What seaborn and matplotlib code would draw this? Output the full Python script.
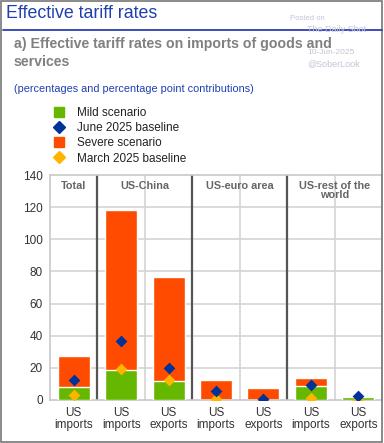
import matplotlib
matplotlib.use("Agg")
import matplotlib.pyplot as plt
import seaborn as sns
import pandas as pd
from matplotlib.lines import Line2D
from matplotlib.patches import Rectangle

sns.set_theme(style="white")
plt.rcParams['font.family'] = ['Liberation Sans', 'DejaVu Sans']

keys = ["tot_imp", "cn_imp", "cn_exp", "ea_imp", "ea_exp", "rw_imp", "rw_exp"]
tick_labels = ["US\nimports", "US\nimports", "US\nexports", "US\nimports",
               "US\nexports", "US\nimports", "US\nexports"]
group_labels = ["Total", "US-China", "US-euro area", "US-rest of the\nworld"]
group_centers = [0, 1.5, 3.5, 5.5]
severe = [27.4, 118.3, 76.8, 12.2, 7.3, 13.8, 1.9]
mild = [8.4, 18.8, 11.8, 0.0, 0.0, 9.0, 1.9]
june = [12.4, 36.5, 19.9, 5.8, 0.6, 9.1, 2.2]
march = [3.2, 19.2, 12.7, 0.4, 0.0, 1.4, 0.3]

GREEN = "#66b700"
ORANGE = "#ff4b00"
NAVY = "#003299"
YELLOW = "#ffb400"

df = pd.DataFrame({"key": keys, "severe": severe, "mild": mild,
                   "june": june, "march": march})

fig = plt.figure(figsize=(3.84, 4.43), dpi=100)
ax = fig.add_axes([50/384, 43/443, 332/384, 225/443])

# gridlines
for v in range(20, 140, 20):
    ax.axhline(v, color="#d4d4d4", lw=1.2, zorder=0)
for xv in [1.5, 3.5, 5.5]:
    ax.axvline(xv, color="#d4d4d4", lw=1.2, zorder=0)
for xv in [0.5, 2.5, 4.5]:
    ax.plot([xv, xv], [0, 140], color="#555555", lw=1.6, zorder=1, solid_capstyle="butt")

sns.barplot(data=df, x="key", y="severe", order=keys, color=ORANGE, width=0.675,
            saturation=1, ax=ax, zorder=2)
sns.barplot(data=df, x="key", y="mild", order=keys, color=GREEN, width=0.675,
            saturation=1, ax=ax, zorder=3)
for col, c in [("march", YELLOW), ("june", NAVY)]:
    sns.stripplot(data=df, x="key", y=col, order=keys, color=c, marker="D",
                  size=6, jitter=False, linewidth=0, ax=ax, zorder=5)

ax.set_xlim(-0.5, 6.5)
ax.set_ylim(0, 140)
ax.set_yticks(range(0, 141, 20))
ax.set_xticks(range(7))
ax.set_xticklabels(tick_labels, fontsize=8.5, color="#333333", linespacing=1.0)
ax.tick_params(axis="y", labelsize=8.5, labelcolor="#333333", length=0, pad=5)
ax.tick_params(axis="x", length=0, pad=5)
ax.set_xlabel("")
ax.set_ylabel("")
for s in ax.spines.values():
    s.set_color("#c8c8c8")
    s.set_linewidth(1.2)

for gx, gl in zip(group_centers, group_labels):
    ax.text(gx, 136.5, gl, ha="center", va="top", fontsize=7.8, fontweight="bold",
            color="#666666", linespacing=0.95, zorder=6)

# legend
handles = [
    Line2D([], [], marker="s", color=GREEN, linestyle="", markersize=7),
    Line2D([], [], marker="D", color=NAVY, linestyle="", markersize=6),
    Line2D([], [], marker="s", color=ORANGE, linestyle="", markersize=7),
    Line2D([], [], marker="D", color=YELLOW, linestyle="", markersize=6),
]
labels = ["Mild scenario", "June 2025 baseline", "Severe scenario", "March 2025 baseline"]
fig.legend(handles, labels, loc="upper left", bbox_to_anchor=(52/384, 1 - 107/443),
           frameon=False, fontsize=8.5, handletextpad=0.9, labelspacing=0.27,
           borderaxespad=0, borderpad=0, handlelength=1.2, labelcolor="#222222")

# titles
fig.text(6/384, 1 - 14/443, "Effective tariff rates", fontsize=12.8, color="#1f3fb0",
         va="center", ha="left")
fig.add_artist(Line2D([3/384, 382/384], [1 - 30/443, 1 - 30/443], color="#2b3fb5", lw=1.3))
fig.text(14/384, 1 - 44/443, "a) Effective tariff rates on imports of goods and",
         fontsize=10.2, fontweight="bold", color="#808080", va="center", ha="left")
fig.text(14/384, 1 - 62/443, "services",
         fontsize=10.2, fontweight="bold", color="#808080", va="center", ha="left")
fig.text(14/384, 1 - 89/443, "(percentages and percentage point contributions)",
         fontsize=7.8, color="#1f3fb0", va="center", ha="left")

# watermark
wm = "#c4c4d8"
fig.text(290/384, 1 - 19/443, "Posted on", fontsize=5.5, color=wm, va="center")
fig.text(307/384, 1 - 30/443, "The Daily Shot", fontsize=6.5, color=wm, va="center")
fig.text(307/384, 1 - 53/443, "10-Jun-2025", fontsize=6.0, color=wm, va="center")
fig.text(307/384, 1 - 64/443, "@SoberLook", fontsize=6.5, color=wm, va="center")

# frame
fig.add_artist(Rectangle((1/384, 1/443), 381/384, 441/443, fill=False,
                         edgecolor="#777777", lw=1.2, transform=fig.transFigure))

fig.savefig("out.png", dpi=100)
